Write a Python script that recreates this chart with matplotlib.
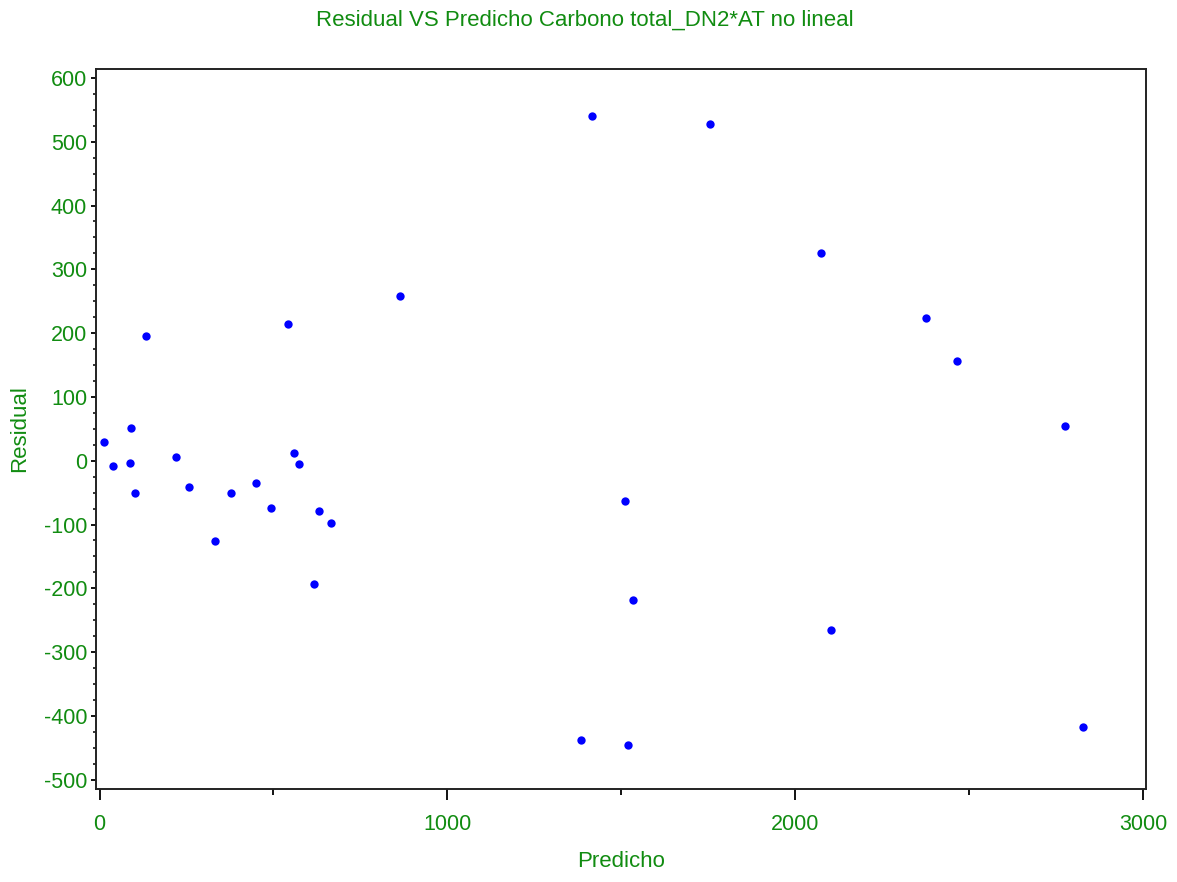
import matplotlib
matplotlib.use('Agg')
import matplotlib.pyplot as plt
from matplotlib.ticker import MultipleLocator

plt.rcParams['font.family'] = ['Liberation Sans', 'DejaVu Sans']
plt.rcParams['axes.unicode_minus'] = False

# Predicted values (x) and residuals (y)
predicho = [13, 38, 91, 87, 101, 135, 221, 257, 333, 377, 449, 493, 543, 560,
            573, 617, 632, 666, 865, 1417, 1756, 1385, 1512, 1520, 1534, 2073,
            2104, 2377, 2466, 2777, 2828]
residual = [29, -9, 52, -3, -51, 195, 6, -41, -126, -51, -35, -74, 214, 12,
            -5, -193, -79, -98, 258, 540, 527, -438, -63, -445, -219, 326,
            -265, 223, 156, 54, -418]

title = "Residual VS Predicho Carbono total_DN2*AT no lineal"
xlabel = "Predicho"
ylabel = "Residual"
green = '#118c11'

fig = plt.figure(figsize=(11.77, 8.82), dpi=100)
ax = fig.add_axes([0.0816, 0.1058, 0.8921, 0.816])

ax.plot(predicho, residual, linestyle='none', marker='o', markersize=6,
        color='#0000ff', markeredgewidth=0)

ax.set_xlim(-10, 3009)
ax.set_ylim(-514, 614)
ax.xaxis.set_major_locator(MultipleLocator(1000))
ax.xaxis.set_minor_locator(MultipleLocator(500))
ax.yaxis.set_major_locator(MultipleLocator(100))
ax.yaxis.set_minor_locator(MultipleLocator(25))

for s in ax.spines.values():
    s.set_linewidth(1.4)
    s.set_color('#222222')

ax.tick_params(axis='x', which='major', direction='out', length=8, width=1.3,
               labelsize=15.5, labelcolor=green, pad=10)
ax.tick_params(axis='x', which='minor', direction='out', length=4, width=1.3)
ax.tick_params(axis='y', which='major', direction='out', length=3.5, width=1.3,
               labelsize=15.5, labelcolor=green, pad=3)
ax.tick_params(axis='y', which='minor', direction='out', length=2, width=1.1)

ax.set_xlabel(xlabel, fontsize=16, color=green, labelpad=12)
ax.set_ylabel(ylabel, fontsize=16, color=green, labelpad=10)
fig.text(0.497, 0.977, title, fontsize=16, color=green, ha='center', va='center')

plt.savefig('out.png', dpi=100)
plt.close()
